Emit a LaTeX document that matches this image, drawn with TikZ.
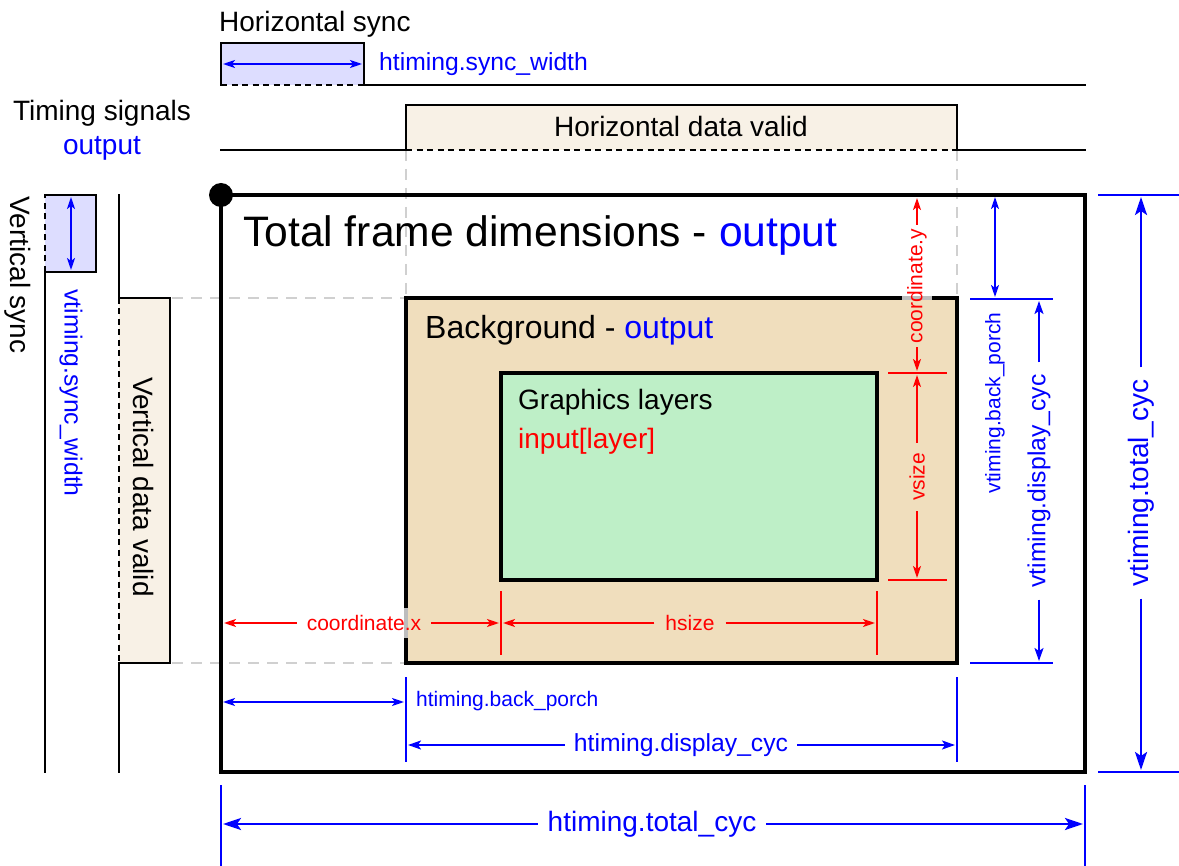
\documentclass[tikz,border=0pt]{standalone}
\usepackage{fontspec}
\setmainfont{Liberation Sans}
\usetikzlibrary{arrows.meta}
\definecolor{syncfill}{HTML}{DDDDFF}
\definecolor{validfill}{HTML}{F8F1E6}
\definecolor{bgfill}{HTML}{F0DEBD}
\definecolor{gfxfill}{HTML}{BEEFC7}
\definecolor{guide}{HTML}{D0D0D0}
\definecolor{patch}{HTML}{BDBDBD}
\tikzset{
  sig/.style={line width=2.5pt, line cap=rect},
  sigdash/.style={line width=2.5pt, dash pattern=on 6pt off 4.5pt},
  guidel/.style={draw=guide, line width=2pt, dash pattern=on 11pt off 8pt},
  boxline/.style={line width=4.5pt},
  tA/.style={inner sep=0pt, font=\fontsize{28}{33}\selectfont},
  tBig/.style={inner sep=0pt, font=\fontsize{42.6}{48}\selectfont},
  tBg/.style={inner sep=0pt, font=\fontsize{32}{37}\selectfont},
  tS/.style={inner sep=0pt, font=\fontsize{21}{25}\selectfont},
  tM/.style={inner sep=0pt, font=\fontsize{24.7}{29}\selectfont},
  bluelbl/.style={text=blue},
  redlbl/.style={text=red},
  btick/.style={draw=blue, line width=2pt},
  rtick/.style={draw=red, line width=2pt},
  bA/.style={draw=blue, line width=2pt, -{Stealth[length=13pt,width=9pt,inset=3pt]}},
  bAA/.style={draw=blue, line width=2pt, {Stealth[length=12pt,width=8pt,inset=3pt]}-{Stealth[length=12pt,width=8pt,inset=3pt]}},
  bB/.style={draw=blue, line width=2.5pt, -{Stealth[length=18pt,width=12pt,inset=4pt]}},
  rA/.style={draw=red, line width=2pt, -{Stealth[length=12pt,width=8pt,inset=3pt]}},
}
\begin{document}
\begin{tikzpicture}[x=1pt,y=-1pt]
\useasboundingbox (0,0) rectangle (1179,866);

% ---------- guide lines ----------
\draw[guidel] (172,298) -- (406,298);
\draw[guidel] (172,663) -- (406,663);
\draw[guidel] (406,150) -- (406,298);
\draw[guidel] (957,150) -- (957,298);

% ---------- horizontal sync ----------
\fill[syncfill] (221,43) rectangle (364,85);
\draw[sig] (1085,85) -- (364,85) -- (364,43) -- (221,43) -- (221,85);
\draw[sigdash] (221,85) -- (364,85);
\coordinate (hswL) at (223,64);
\coordinate (hswR) at (362,64);
\draw[bAA] (hswL) -- (hswR);
\node[tM, bluelbl, anchor=west] (lhsw) at (379,64) {htiming.sync\_width};
\node[tA, anchor=base west] (lhsync) at (219,32) {Horizontal sync};

% ---------- horizontal data valid ----------
\fill[validfill] (406,105) rectangle (957,150);
\draw[sig] (221,150) -- (406,150) -- (406,105) -- (957,105) -- (957,150) -- (1085,150);
\draw[sigdash] (406,150) -- (957,150);
\node[tA, anchor=base] (lhdv) at (681,137) {Horizontal data valid};

% ---------- timing signals label ----------
\node[tA, anchor=base] (ltiming) at (102,121) {Timing signals};
\node[tA, bluelbl, anchor=base] (ltimingout) at (102,155) {output};

% ---------- vertical sync ----------
\fill[syncfill] (45,195) rectangle (96,272);
\draw[sig] (45,772) -- (45,272) -- (96,272) -- (96,195) -- (45,195);
\draw[sigdash] (45,272) -- (45,195);
\coordinate (vswT) at (71,197);
\coordinate (vswB) at (71,270);
\draw[bAA] (vswT) -- (vswB);
\node[tA, rotate=-90] (lvsync) at (18,275) {Vertical sync};
\node[tM, bluelbl, rotate=-90] (lvsw) at (71,393) {vtiming.sync\_width};

% ---------- vertical data valid ----------
\fill[validfill] (119,298) rectangle (170,663);
\draw[sig] (119,195) -- (119,298) -- (170,298) -- (170,663) -- (119,663) -- (119,772);
\draw[sigdash] (119,298) -- (119,663);
\node[tA, rotate=-90] (lvdv) at (144,487) {Vertical data valid};

% ---------- frame, background, graphics ----------
\draw[boxline] (221,195) rectangle (1085,772);
\fill (221,195) circle (12);
\node[tBig, anchor=base west] (ltotal) at (243,247) {Total frame dimensions - \textcolor{blue}{output}};

\draw[boxline, fill=bgfill] (406,298) rectangle (957,663);
\node[tBg, anchor=base west] (lbg) at (425,339) {Background - \textcolor{blue}{output}};

\draw[boxline, fill=gfxfill] (501,373) rectangle (877,580);
\node[tA, anchor=base west] (lgfx) at (518,410) {Graphics layers};
\node[tA, redlbl, anchor=base west] (linput) at (518,449) {input[layer]};

% patches where labels cross borders
\draw[patch, line width=4.5pt] (902,298) -- (932,298);
\draw[patch, line width=4.5pt] (406,608) -- (406,638);

% ---------- red dimensions ----------
\node[tS, redlbl, inner xsep=10pt] (lcx) at (364,623) {coordinate.x};
\coordinate (cxL) at (224,623);
\coordinate (cxR) at (499,623);
\draw[rA] (lcx.west) -- (cxL);
\draw[rA] (lcx.east) -- (cxR);

\draw[rtick] (501,591) -- (501,655);
\draw[rtick] (877,591) -- (877,655);
\node[tS, redlbl, inner xsep=11pt] (lhsize) at (690,623) {hsize};
\coordinate (hsL) at (503,623);
\coordinate (hsR) at (875,623);
\draw[rA] (lhsize.west) -- (hsL);
\draw[rA] (lhsize.east) -- (hsR);

\node[tS, redlbl, rotate=90, inner xsep=4pt] (lcy) at (917,286) {coordinate.y};
\coordinate (cyT) at (917,198);
\coordinate (cyB) at (917,371);
\draw[rA] (lcy.east) -- (cyT);
\draw[rA] (lcy.west) -- (cyB);

\draw[rtick] (888,373) -- (947,373);
\draw[rtick] (888,580) -- (947,580);
\node[tS, redlbl, rotate=90, inner xsep=10pt] (lvsize) at (917,477) {vsize};
\coordinate (vsT) at (917,375);
\coordinate (vsB) at (917,578);
\draw[rA] (lvsize.east) -- (vsT);
\draw[rA] (lvsize.west) -- (vsB);

% ---------- blue horizontal dimensions ----------
\draw[btick] (406,677) -- (406,762);
\draw[btick] (957,677) -- (957,762);
\coordinate (hbpL) at (223,702);
\coordinate (hbpR) at (404,702);
\draw[bAA] (hbpL) -- (hbpR);
\node[tS, bluelbl, anchor=west] (lhbp) at (416,701) {htiming.back\_porch};

\node[tM, bluelbl, inner xsep=9pt] (lhdc) at (681,745) {htiming.display\_cyc};
\coordinate (hdcL) at (408,745);
\coordinate (hdcR) at (955,745);
\draw[bA] (lhdc.west) -- (hdcL);
\draw[bA] (lhdc.east) -- (hdcR);

\draw[btick] (221,785) -- (221,866);
\draw[btick] (1085,785) -- (1085,866);
\node[tA, bluelbl, inner xsep=10pt] (lhtc) at (652,824) {htiming.total\_cyc};
\coordinate (htcL) at (223,824);
\coordinate (htcR) at (1083,824);
\draw[bB] (lhtc.west) -- (htcL);
\draw[bB] (lhtc.east) -- (htcR);

% ---------- blue vertical dimensions ----------
\coordinate (vbpT) at (995,197);
\coordinate (vbpB) at (995,297);
\draw[bAA] (vbpT) -- (vbpB);
\node[tS, bluelbl, rotate=90] (lvbp) at (995,403) {vtiming.back\_porch};

\draw[btick] (970,299) -- (1053,299);
\draw[btick] (970,663) -- (1053,663);
\node[tM, bluelbl, rotate=90, inner xsep=12pt] (lvdc) at (1039,481) {vtiming.display\_cyc};
\coordinate (vdcT) at (1039,301);
\coordinate (vdcB) at (1039,661);
\draw[bA] (lvdc.east) -- (vdcT);
\draw[bA] (lvdc.west) -- (vdcB);

\draw[btick] (1098,195) -- (1179,195);
\draw[btick] (1098,772) -- (1179,772);
\node[tA, bluelbl, rotate=90, inner xsep=12pt] (lvtc) at (1141,483) {vtiming.total\_cyc};
\coordinate (vtcT) at (1141,197);
\coordinate (vtcB) at (1141,770);
\draw[bB] (lvtc.east) -- (vtcT);
\draw[bB] (lvtc.west) -- (vtcB);
\end{tikzpicture}
\end{document}
